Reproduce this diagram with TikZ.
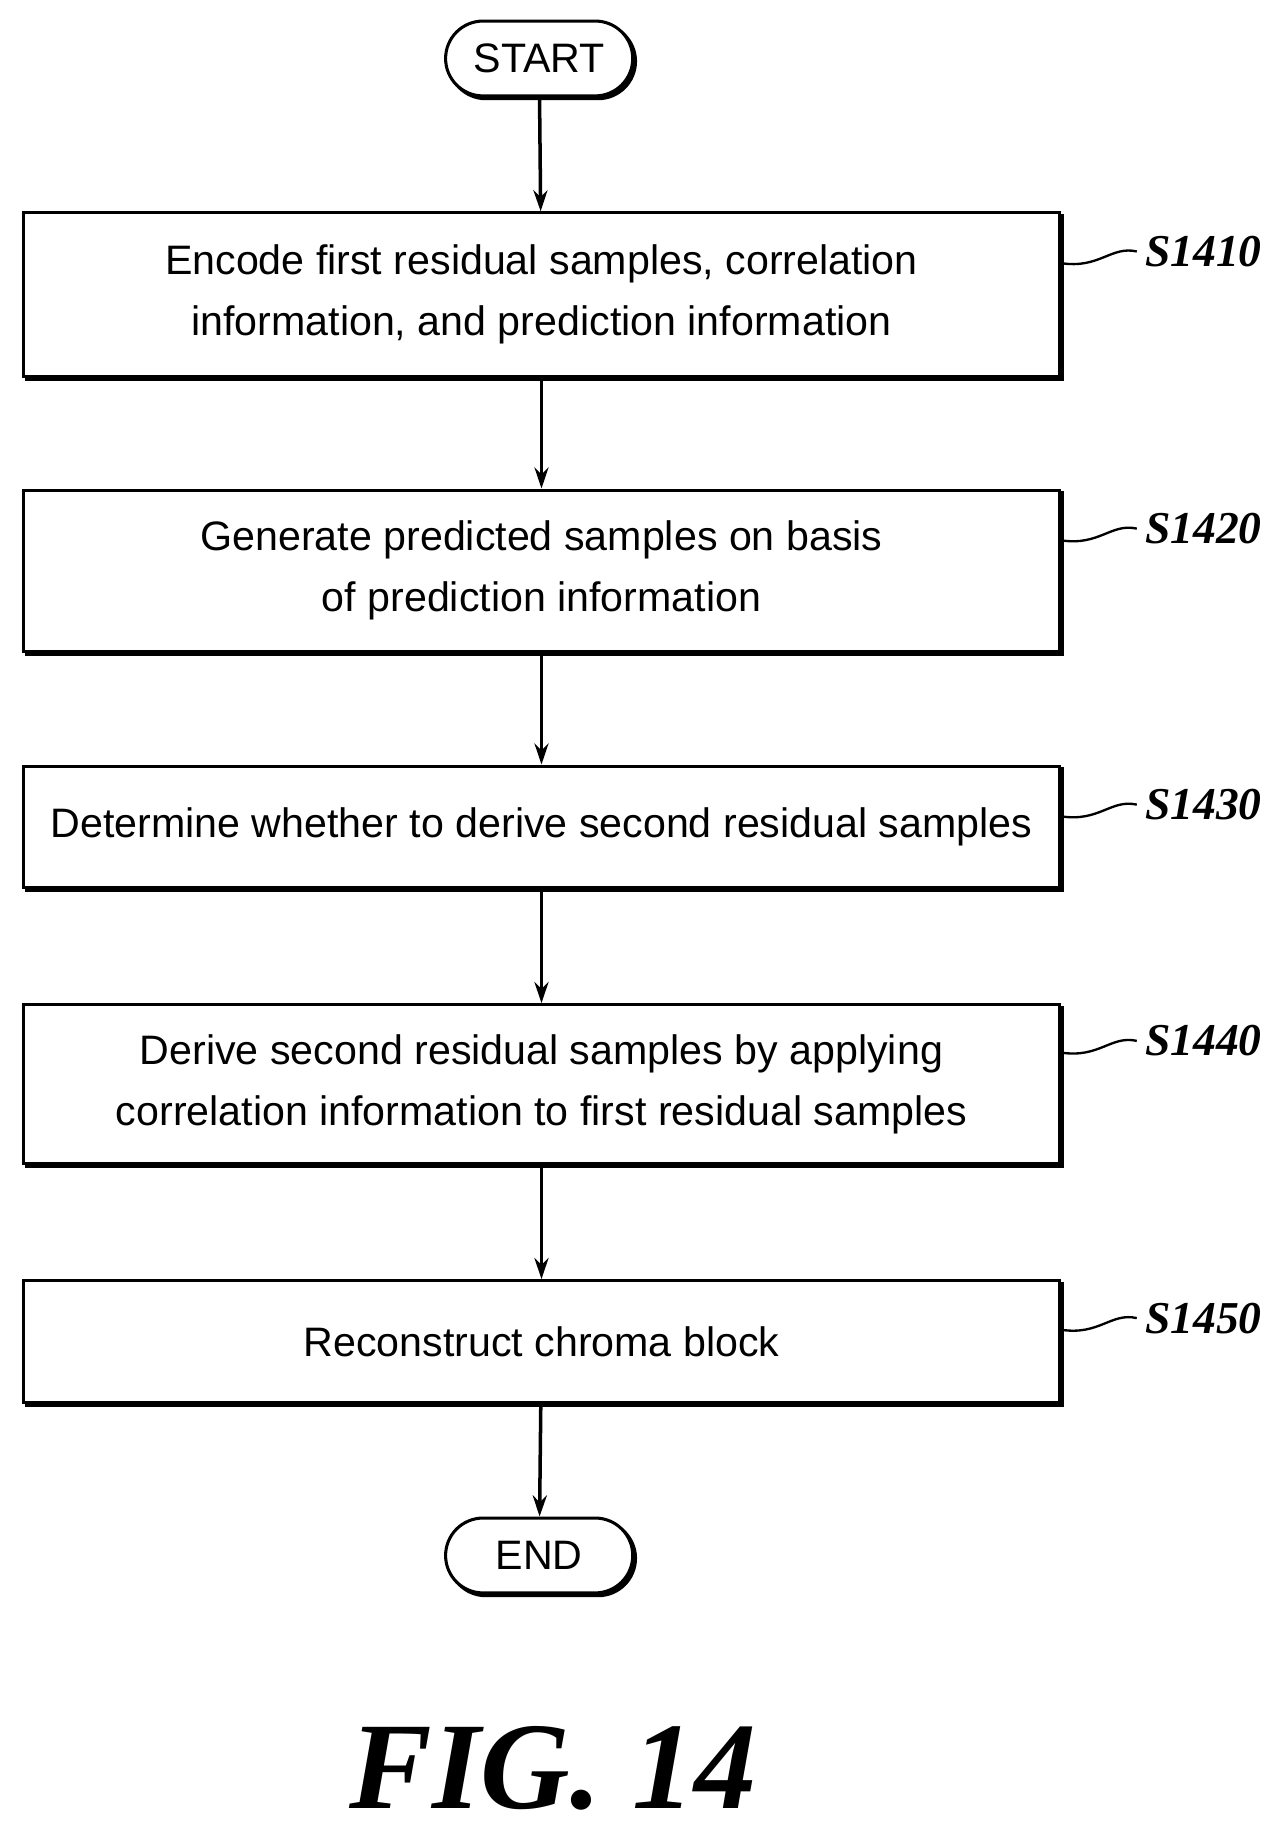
\documentclass[tikz,border=0pt]{standalone}
\usepackage{fontspec}
\setmainfont{Liberation Sans}
\newfontfamily\labelfont{Liberation Serif}
\usetikzlibrary{positioning,arrows.meta,shadows}
\tikzset{
  box/.style={draw, fill=white, line width=1.3pt, minimum width=443pt, align=center,
    font=\fontsize{17.6}{26}\selectfont, inner sep=0pt,
    copy shadow={shadow xshift=1.2pt, shadow yshift=-1.2pt, fill=black, draw=black, line width=1.3pt}},
  term/.style={box, rounded corners=16pt, minimum width=80pt, minimum height=32pt},
  flow/.style={-{Stealth[length=9pt,width=6pt]}, line width=1.5pt},
  steplabel/.style={font=\labelfont\fontsize{19.5}{19.5}\selectfont\bfseries\itshape, anchor=west},
}
\begin{document}
\begin{tikzpicture}[x=0.5pt,y=-0.5pt]
  \useasboundingbox (0,0) rectangle (1100,1575);
  \node[term] (start) at (461,50) {START};
  \node[box, minimum height=70pt] (s1) at (463,252) {Encode first residual samples, correlation\\information, and prediction information};
  \node[box, minimum height=69pt] (s2) at (463,488) {Generate predicted samples on basis\\of prediction information};
  \node[box, minimum height=52pt] (s3) at (463,707) {Determine whether to derive second residual samples};
  \node[box, minimum height=68pt] (s4) at (463,927) {Derive second residual samples by applying\\correlation information to first residual samples};
  \node[box, minimum height=52pt] (s5) at (463,1147) {Reconstruct chroma block};
  \node[term] (end) at (461,1330) {END};
  \draw[flow] (start) -- (s1);
  \draw[flow] (s1) -- (s2);
  \draw[flow] (s2) -- (s3);
  \draw[flow] (s3) -- (s4);
  \draw[flow] (s4) -- (s5);
  \draw[flow] (s5) -- (end);
  % step labels
  \foreach \s/\n/\y in {s1/S1410/215, s2/S1420/452, s3/S1430/688, s4/S1440/890, s5/S1450/1127}{
    \node[steplabel] (l\n) at (972,\y) {\n};
    \draw[line width=1pt] (\s.east |- 0,\y+10) .. controls (940,\y+15) and (950,\y-5) .. (l\n.west);
  }
  \node[font=\labelfont\fontsize{53}{53}\selectfont\bfseries\itshape] (fig) at (473,1512) {FIG. 14};
\end{tikzpicture}
\end{document}
